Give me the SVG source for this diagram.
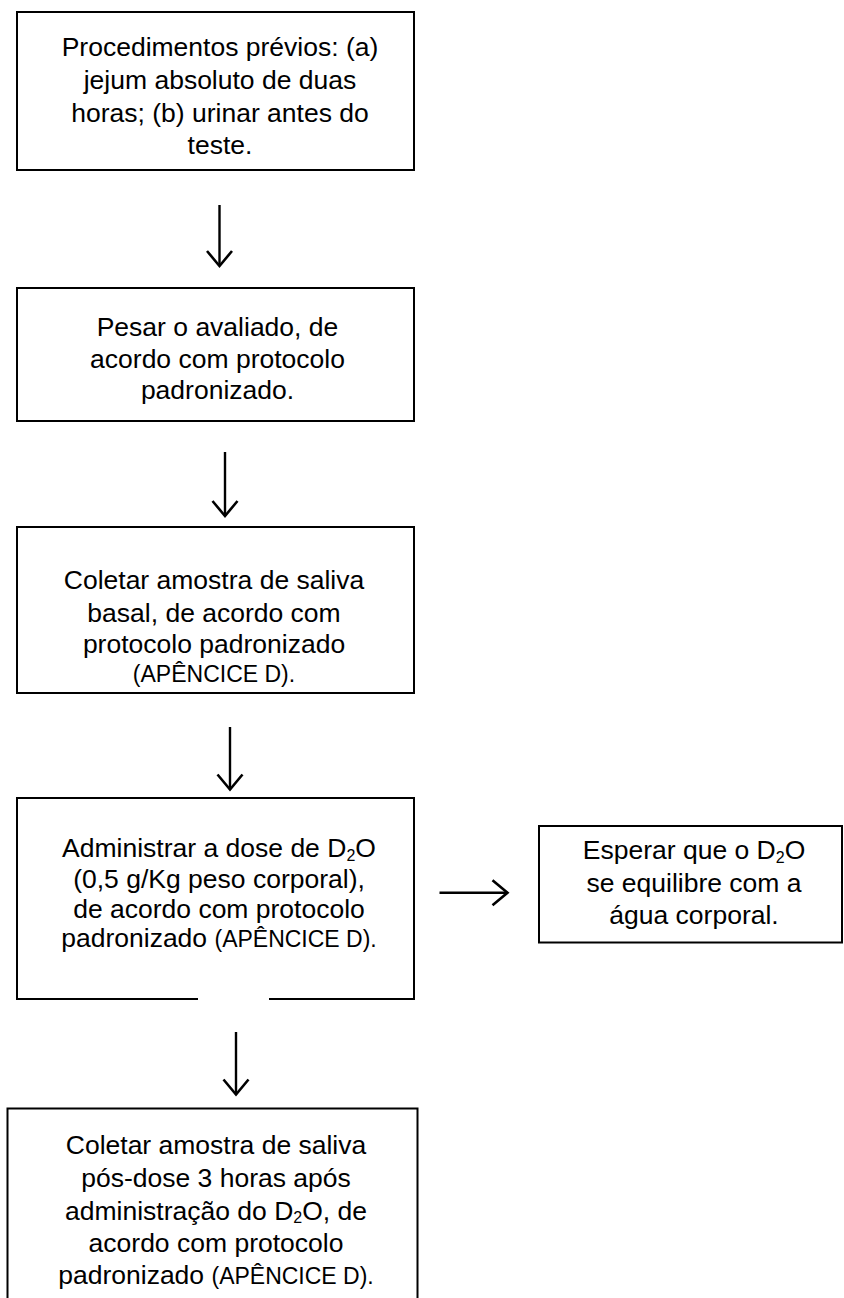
<svg xmlns="http://www.w3.org/2000/svg" width="844" height="1298" viewBox="0 0 844 1298">
<defs>
<style>
.box{fill:#fff;stroke:#000;stroke-width:2}
.t{font-family:"Liberation Sans",Arial,sans-serif;font-size:26.5px;fill:#000;text-anchor:middle}
.sm{font-size:23px}
.sub{font-size:16px}
.conn{stroke:#000;stroke-width:2.4;fill:none}
</style>
<marker id="ah" markerUnits="userSpaceOnUse" markerWidth="40" markerHeight="40" viewBox="-20 -20 40 40" refX="0" refY="0" orient="auto">
<path d="M-15,-12.5 L0,0 L-15,12.5" fill="none" stroke="#000" stroke-width="2.6" stroke-linejoin="miter"/>
</marker>
</defs>
<rect width="844" height="1298" fill="#fff"/>

<g id="node1">
<rect class="box" x="17" y="12" width="397" height="158"/>
<text class="t" x="220" y="55.5">Procedimentos prévios: (a)</text>
<text class="t" x="220" y="88.5">jejum absoluto de duas</text>
<text class="t" x="220" y="121.5">horas; (b) urinar antes do</text>
<text class="t" x="220" y="154">teste.</text>
</g>

<g id="node2">
<rect class="box" x="17" y="288" width="397" height="133"/>
<text class="t" x="217.5" y="336">Pesar o avaliado, de</text>
<text class="t" x="217.5" y="367.5">acordo com protocolo</text>
<text class="t" x="217.5" y="398.5">padronizado.</text>
</g>

<g id="node3">
<rect class="box" x="17" y="527" width="397" height="166"/>
<text class="t" x="214" y="589">Coletar amostra de saliva</text>
<text class="t" x="214" y="621.5">basal, de acordo com</text>
<text class="t" x="214" y="653">protocolo padronizado</text>
<text class="t sm" x="214" y="681.5">(APÊNCICE D).</text>
</g>

<g id="node4">
<rect class="box" x="17" y="798" width="397" height="201"/>
<rect x="198" y="997" width="71" height="5" fill="#fff"/>
<text class="t" x="219" y="857">Administrar a dose de D<tspan class="sub" dy="3.5">2</tspan><tspan dy="-3.5">O</tspan></text>
<text class="t" x="219" y="888">(0,5 g/Kg peso corporal),</text>
<text class="t" x="219" y="917.5">de acordo com protocolo</text>
<text class="t" x="219" y="947">padronizado <tspan class="sm">(APÊNCICE D).</tspan></text>
</g>

<g id="node5">
<rect class="box" x="539" y="826" width="303" height="116.5"/>
<text class="t" x="694" y="859">Esperar que o D<tspan class="sub" dy="3.5">2</tspan><tspan dy="-3.5">O</tspan></text>
<text class="t" x="694" y="891.5">se equilibre com a</text>
<text class="t" x="694" y="923.5">água corporal.</text>
</g>

<g id="node6">
<rect class="box" x="7.5" y="1108.5" width="410" height="200"/>
<text class="t" x="216" y="1153.5">Coletar amostra de saliva</text>
<text class="t" x="216" y="1186.5">pós-dose 3 horas após</text>
<text class="t" x="216" y="1219.5">administração do D<tspan class="sub" dy="3.5">2</tspan><tspan dy="-3.5">O, de</tspan></text>
<text class="t" x="216" y="1251.5">acordo com protocolo</text>
<text class="t" x="216" y="1283.5">padronizado <tspan class="sm">(APÊNCICE D).</tspan></text>
</g>

<g id="connectors">
<line class="conn" x1="219.5" y1="205" x2="219.5" y2="266" marker-end="url(#ah)"/>
<line class="conn" x1="225" y1="452" x2="225" y2="516" marker-end="url(#ah)"/>
<line class="conn" x1="230" y1="727" x2="230" y2="789.5" marker-end="url(#ah)"/>
<line class="conn" x1="439.5" y1="892.7" x2="507.5" y2="892.7" marker-end="url(#ah)"/>
<line class="conn" x1="236" y1="1032" x2="236" y2="1094.5" marker-end="url(#ah)"/>
</g>
</svg>
